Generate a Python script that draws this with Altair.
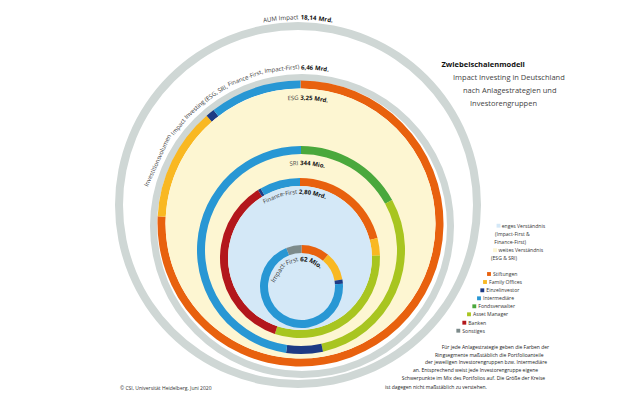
import math
import altair as alt
import pandas as pd

# ---------------- data ----------------
groups = ["Stiftungen", "Family Offices", "Einzelinvestor", "Intermediäre",
          "Fondsverwalter", "Asset Manager", "Banken", "Sonstiges"]
group_colors = ["#e8610e", "#f9b822", "#1d3a84", "#2897d4",
                "#4aa83c", "#a8c520", "#b3171c", "#7d8b8b"]

# ring segments, clockwise from 12 o'clock, share of ring in %
esg_groups = ["Stiftungen", "Family Offices", "Einzelinvestor", "Intermediäre"]
esg_shares = [75.8, 12.8, 1.0, 10.4]
sri_groups = ["Fondsverwalter", "Asset Manager", "Einzelinvestor", "Intermediäre"]
sri_shares = [17.0, 29.6, 5.7, 47.7]
ff_groups = ["Stiftungen", "Family Offices", "Asset Manager", "Banken", "Einzelinvestor", "Intermediäre"]
ff_shares = [21.0, 3.5, 30.6, 36.1, 0.6, 8.2]
if_groups = ["Stiftungen", "Family Offices", "Einzelinvestor", "Intermediäre", "Sonstiges"]
if_shares = [11.1, 11.2, 1.6, 70.1, 6.0]

aum_label, aum_value = "AUM Impact", "18,14 Mrd."
inv_label = "Investitionsvolumen Impact Investing (ESG, SRI, Finance-First, Impact-First)"
inv_value = "6,46 Mrd."
ring_names = ["ESG", "SRI", "Finance-First", "Impact-First"]
ring_values = ["3,25 Mrd.", "344 Mio.", "2,80 Mrd.", "62 Mio."]

title = "Zwiebelschalenmodell"
subtitle_lines = ["Impact Investing in Deutschland", "nach Anlagestrategien und", "Investorengruppen"]
scope_lines = ["enges Verständnis", "(Impact-First &", "Finance-First)", "weites Verständnis", "(ESG & SRI)"]
note_lines = ["Für jede Anlagestrategie geben die Farben der",
              "Ringsegmente maßstäblich die Portfolioanteile",
              "der jeweiligen Investorengruppen bzw. Intermediäre",
              "an. Entsprechend weist jede Investorengruppe eigene",
              "Schwerpunkte im Mix des Portfolios auf.  Die Größe der Kreise",
              "ist dagegen nicht maßstäblich zu verstehen."]
credit = "© CSI, Universität Heidelberg, Juni 2020"

# ---------------- styles / layout ----------------
GREY_RING = "#cfd7d5"
CREAM = "#fdf6d2"
LIGHT_BLUE = "#d4e8f7"
FONT = "Open Sans"
OFF = 8  # page margin
W, H = 600, 390

color_scale = alt.Scale(domain=groups, range=group_colors)

# geometry in page pixels: center x, center y, outer radius, inner radius
G_AUM = (298, 205, 183, 175)
G_INV = (302, 226, 152, 145)
G_ESG = (300.5, 223.5, 143, 135)
G_SRI = (301, 250, 104, 96)
G_FF = (300, 258, 80, 72)
G_IF = (301.5, 286.5, 41.5, 33.5)

CW = {'a': 556, 'b': 613, 'c': 480, 'd': 613, 'e': 561, 'f': 336, 'g': 546, 'h': 613, 'i': 258,
      'j': 258, 'k': 529, 'l': 258, 'm': 930, 'n': 613, 'o': 601, 'p': 613, 'q': 613, 'r': 408,
      's': 477, 't': 353, 'u': 613, 'v': 500, 'w': 778, 'x': 523, 'y': 500, 'z': 468,
      'A': 633, 'B': 647, 'C': 631, 'D': 729, 'E': 556, 'F': 516, 'G': 728, 'H': 738, 'I': 279,
      'J': 267, 'K': 614, 'L': 519, 'M': 907, 'N': 754, 'O': 787, 'P': 603, 'Q': 787, 'R': 618,
      'S': 549, 'T': 553, 'U': 728, 'V': 594, 'W': 927, 'X': 576, 'Y': 560, 'Z': 560,
      ' ': 260, ',': 245, '.': 266, '-': 322, '(': 296, ')': 296, '&': 705}


def text_width(s, size, bold=False):
    w = sum(CW.get(ch, 572 if ch.isdigit() else 560) for ch in s) / 1000.0 * size
    return w * (1.07 if bold else 1.0)


def curved(segments, geom, r, mid_deg, size, split_hyphen=False):
    cx, cy = geom[0], geom[1]
    toks = []  # (text, bold, gap_before)
    for text, bold in segments:
        for wi, w in enumerate(text.split(" ")):
            parts = [w]
            if split_hyphen and "-" in w:
                a, b = w.split("-", 1)
                parts = [a + "-", b]
            for pi, p in enumerate(parts):
                gap = 0 if pi > 0 else 1
                toks.append((p, bold, gap))
    toks[0] = (toks[0][0], toks[0][1], 0)
    sp = CW[' '] / 1000.0 * size
    widths = [text_width(t, size, b) for t, b, _ in toks]
    total = sum(widths) + sp * sum(g for _, _, g in toks)
    start = math.radians(mid_deg) - total / 2 / r
    rows, s = [], 0.0
    for (t, b, g), wd in zip(toks, widths):
        s += sp * g
        th = start + (s + wd / 2) / r
        rows.append(dict(text=t, bold=b, size=size,
                         x=cx + r * math.sin(th) - OFF, y=cy - r * math.cos(th) - OFF,
                         ang=math.degrees(th) % 360))
        s += wd
    return rows


def ring(groups_, shares_, geom):
    df = pd.DataFrame({"group": groups_, "share": shares_, "ord": list(range(len(groups_)))})
    cx, cy, ro, ri = geom
    return alt.Chart(df).mark_arc(radius=ro, radius2=ri, x=cx - OFF, y=cy - OFF, strokeWidth=0).encode(
        theta=alt.Theta("share:Q", stack="normalize"),
        color=alt.Color("group:N", scale=color_scale, legend=None),
        order=alt.Order("ord:Q"),
    )


def disc(geom, color, r_out, r_in=0):
    cx, cy = geom[0], geom[1]
    df = pd.DataFrame({"k": [1]})
    kw = dict(radius=r_out, x=cx - OFF, y=cy - OFF, theta=0, theta2=2 * math.pi, strokeWidth=0)
    if r_in:
        kw["radius2"] = r_in
    return alt.Chart(df).mark_arc(**kw).encode(color=alt.value(color))


layers = [
    disc(G_AUM, GREY_RING, G_AUM[2], G_AUM[3]),
    disc(G_INV, GREY_RING, G_INV[2], G_INV[3]),
    ring(esg_groups, esg_shares, G_ESG),
    disc(G_ESG, CREAM, G_ESG[3]),
    ring(sri_groups, sri_shares, G_SRI),
    ring(ff_groups, ff_shares, G_FF),
    disc(G_FF, LIGHT_BLUE, G_FF[3]),
    ring(if_groups, if_shares, G_IF),
]

# ---- curved labels ----
rows = []
rows += curved([(aum_label, False), (aum_value, True)], G_AUM, 187.5, 0, 6.2)
rows += curved([(inv_label, False), (inv_value, True)], G_INV, 158.5, 327, 6.0)
rows += curved([(ring_names[0], False), (ring_values[0], True)], G_ESG, 125.7, 3.4, 6.0)
rows += curved([(ring_names[1], False), (ring_values[1], True)], G_SRI, 86.9, 4.3, 6.0)
rows += curved([(ring_names[2], False), (ring_values[2], True)], G_FF, 66, 355, 6.0, split_hyphen=True)
rows += curved([(ring_names[3], False), (ring_values[3], True)], G_IF, 27, 342, 6.4, split_hyphen=True)
cdf = pd.DataFrame(rows)

for is_bold in (False, True):
    sub = cdf[cdf["bold"] == is_bold]
    layers.append(
        alt.Chart(sub).mark_text(font=FONT, fontSize=6.1, align="center", baseline="middle",
                                 fontWeight="bold" if is_bold else "normal",
                                 color="#111111" if is_bold else "#3a3a3a").encode(
            x=alt.X("x:Q", scale=None, axis=None),
            y=alt.Y("y:Q", scale=None, axis=None),
            angle=alt.Angle("ang:Q", scale=None),
            size=alt.Size("size:Q", scale=None, legend=None),
            text="text:N",
        )
    )


def straight(texts, xs, ys, size, color, weight="normal"):
    df = pd.DataFrame({"text": texts, "x": [v - OFF for v in xs], "y": [v - OFF for v in ys]})
    return alt.Chart(df).mark_text(font=FONT, fontSize=size, align="left", baseline="middle",
                                   fontWeight=weight, color=color).encode(
        x=alt.X("x:Q", scale=None, axis=None),
        y=alt.Y("y:Q", scale=None, axis=None),
        text="text:N",
    )


# title block
layers.append(straight([title], [441.5], [65], 7.5, "#111111", "bold"))
layers.append(straight(subtitle_lines, [453, 463, 470], [78, 91, 103.5], 7.5, "#444444"))

# scope legend (fills)
scope_sq = pd.DataFrame({"x": [498.5 - OFF, 495 - OFF], "y": [225.7 - OFF, 250.2 - OFF],
                         "c": [LIGHT_BLUE, CREAM]})
layers.append(alt.Chart(scope_sq).mark_square(size=15, opacity=1).encode(
    x=alt.X("x:Q", scale=None, axis=None), y=alt.Y("y:Q", scale=None, axis=None),
    color=alt.Color("c:N", scale=None, legend=None)))
layers.append(straight(scope_lines, [501.7, 495, 494.3, 498.5, 491],
                       [226, 233.5, 241.7, 250.2, 258.3], 5.1, "#333333"))

# group legend
leg_x = [489, 485, 482.3, 479, 474.3, 469, 464.3, 458.3]
leg_y = [274, 282, 290.3, 298.3, 306.3, 314.3, 322.7, 330.7]
leg_df = pd.DataFrame({"group": groups, "x": [v - OFF for v in leg_x], "y": [v - OFF for v in leg_y]})
layers.append(alt.Chart(leg_df).mark_square(size=15, opacity=1).encode(
    x=alt.X("x:Q", scale=None, axis=None), y=alt.Y("y:Q", scale=None, axis=None),
    color=alt.Color("group:N", scale=color_scale, legend=None)))
layers.append(straight(groups, [v + 4 for v in leg_x], leg_y, 5.1, "#333333"))

# note + credit
layers.append(straight(note_lines, [441.7, 435, 425, 413, 401.7, 385],
                       [346.7, 354.5, 362.4, 370.2, 378.4, 387.0], 5.0, "#222222"))
layers.append(straight([credit], [120], [387.5], 5.0, "#333333"))

chart = alt.layer(*layers).properties(
    width=W, height=H, padding=0, autosize="none", background="white"
).configure_view(strokeWidth=0)

chart.save("out.html", embed_options={"renderer": "svg", "actions": False})
